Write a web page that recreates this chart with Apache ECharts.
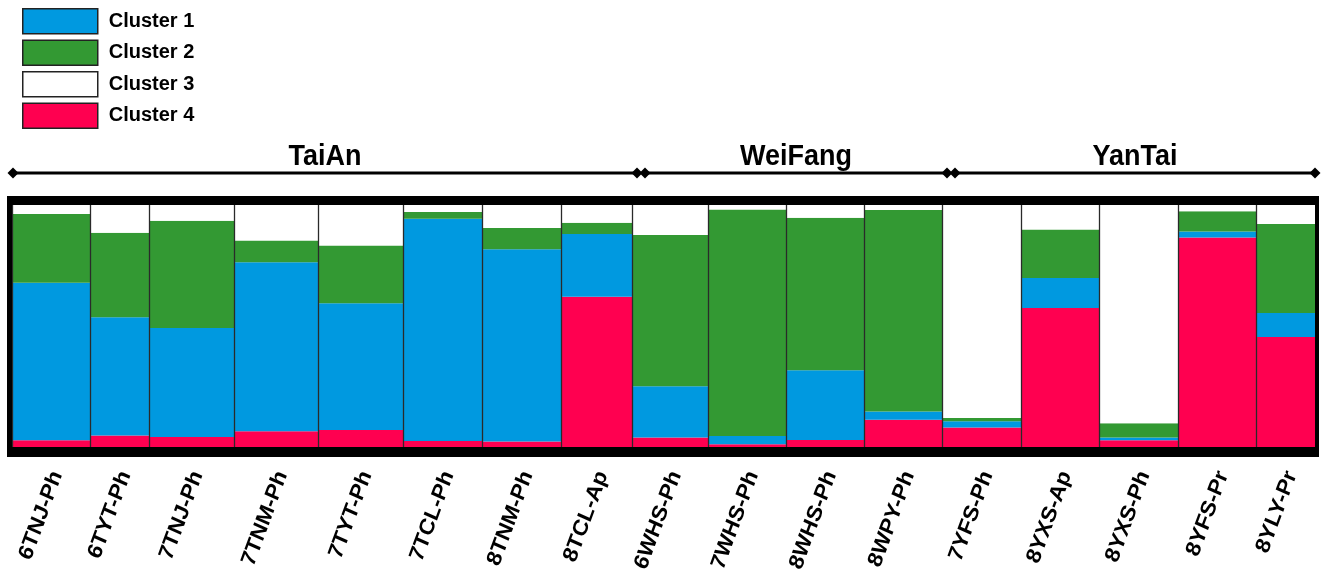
<!DOCTYPE html>
<html>
<head>
<meta charset="utf-8">
<script src="https://cdn.jsdelivr.net/npm/echarts@6/dist/echarts.min.js"></script>
<style>
  html, body { margin: 0; padding: 0; background: #fff; }
  #chart { width: 1321px; height: 580px; }
</style>
</head>
<body>
<div id="chart"></div>
<script>
// ---------- data ----------
const categories = ['6TNJ-Ph','6TYT-Ph','7TNJ-Ph','7TNM-Ph','7TYT-Ph','7TCL-Ph','8TNM-Ph','8TCL-Ap',
                    '6WHS-Ph','7WHS-Ph','8WHS-Ph','8WPY-Ph',
                    '7YFS-Ph','8YXS-Ap','8YXS-Ph','8YFS-Pr','8YLY-Pr'];
// relative bar widths (sample weights)
const sampleWeights = [78,59,85,84,85,79,79,71,76,78,78,78,79,78,79,78,59];
const groupNames = ['TaiAn','WeiFang','YanTai'];
const groupSizes = [8,4,5];
const clusterNames = ['Cluster 1','Cluster 2','Cluster 3','Cluster 4'];
const cluster1 = [0.651,0.488,0.451,0.698,0.524,0.918,0.794,0.259,0.212,0.034,0.288,0.034,0.025,0.124,0.011,0.025,0.099];
const cluster2 = [0.284,0.349,0.443,0.090,0.239,0.028,0.088,0.047,0.625,0.936,0.630,0.832,0.014,0.201,0.059,0.083,0.367];
const cluster3 = [0.037,0.114,0.065,0.148,0.167,0.029,0.094,0.073,0.124,0.018,0.052,0.021,0.880,0.101,0.902,0.026,0.079];
const cluster4 = [0.028,0.048,0.041,0.065,0.070,0.025,0.023,0.621,0.039,0.011,0.029,0.113,0.081,0.574,0.028,0.866,0.455];

// ---------- styling ----------
const colors = { 'Cluster 1': '#0099e0', 'Cluster 2': '#339933', 'Cluster 3': '#ffffff', 'Cluster 4': '#ff0050' };
const FONT = '"Liberation Sans", Arial, sans-serif';

// ---------- derived ----------
const edges = [0];
sampleWeights.forEach(w => edges.push(edges[edges.length - 1] + w));
const total = edges[edges.length - 1];
const values = { 'Cluster 1': cluster1, 'Cluster 2': cluster2, 'Cluster 3': cluster3, 'Cluster 4': cluster4 };
const stackOrder = ['Cluster 4', 'Cluster 1', 'Cluster 2', 'Cluster 3']; // bottom -> top

const base = categories.map(() => 0);
const clusterSeries = [];
stackOrder.forEach(name => {
  const arr = values[name];
  const data = categories.map((c, i) => {
    const item = [edges[i], edges[i + 1], base[i], base[i] + arr[i]];
    base[i] += arr[i];
    return item;
  });
  clusterSeries.push({
    name: name,
    type: 'custom',
    itemStyle: { color: colors[name] },
    data: data,
    z: 2,
    renderItem: function (params, api) {
      const p0 = api.coord([api.value(0), api.value(3)]);
      const p1 = api.coord([api.value(1), api.value(2)]);
      return {
        type: 'rect',
        shape: { x: p0[0], y: p0[1], width: p1[0] - p0[0], height: p1[1] - p0[1] },
        style: { fill: colors[name] }
      };
    }
  });
});

// separators between bars
const sepSeries = {
  name: 'sep', type: 'custom', silent: true, z: 3,
  data: categories.map((c, i) => [edges[i]]),
  renderItem: function (params, api) {
    const cs = params.coordSys;
    const p = api.coord([api.value(0), 0]);
    const x = Math.round(p[0]) + 0.5;
    return { type: 'line', shape: { x1: x, y1: cs.y, x2: x, y2: cs.y + cs.height },
             style: { stroke: '#2a2a2a', lineWidth: 1.3 } };
  }
};

// thick frame around plot
const frameSeries = {
  name: 'frame', type: 'custom', silent: true, z: 4,
  data: [[0]],
  renderItem: function (params, api) {
    const cs = params.coordSys;
    const L = 5, R = 4, T = 9, B = 10;
    return {
      type: 'group',
      children: [
        { type: 'rect', shape: { x: cs.x - L, y: cs.y - T, width: cs.width + L + R, height: T }, style: { fill: '#000' } },
        { type: 'rect', shape: { x: cs.x - L, y: cs.y + cs.height, width: cs.width + L + R, height: B }, style: { fill: '#000' } },
        { type: 'rect', shape: { x: cs.x - L, y: cs.y - T, width: L, height: cs.height + T + B }, style: { fill: '#000' } },
        { type: 'rect', shape: { x: cs.x + cs.width, y: cs.y - T, width: R, height: cs.height + T + B }, style: { fill: '#000' } }
      ]
    };
  }
};

// group headers
const groupData = [];
{
  let s = 0;
  groupSizes.forEach((n, g) => { groupData.push([edges[s], edges[s + n], g]); s += n; });
}
function diamond(cx, cy, r) {
  return { type: 'polygon', shape: { points: [[cx, cy - r], [cx + r, cy], [cx, cy + r], [cx - r, cy]] }, style: { fill: '#000' } };
}
const groupSeries = {
  name: 'groups', type: 'custom', silent: true, z: 5,
  data: groupData,
  renderItem: function (params, api) {
    const cs = params.coordSys;
    const g = api.value(2);
    const last = groupSizes.length - 1;
    let x0 = api.coord([api.value(0), 0])[0];
    let x1 = api.coord([api.value(1), 0])[0];
    x0 += (g === 0) ? 1 : 13;
    x1 += (g === last) ? 0 : 5;
    const ly = cs.y - 32;
    return {
      type: 'group',
      children: [
        { type: 'line', shape: { x1: x0, y1: ly, x2: x1, y2: ly }, style: { stroke: '#000', lineWidth: 3 } },
        diamond(x0, ly, 5.5), diamond(x1, ly, 5.5),
        { type: 'text', x: (x0 + x1) / 2, y: ly - 16, scaleY: 1.08,
          style: { text: groupNames[g], align: 'center', verticalAlign: 'middle',
                   fontFamily: FONT, fontWeight: 'bold', fontSize: 27, fill: '#000' } }
      ]
    };
  }
};

// category labels (rotated)
const labelSeries = {
  name: 'labels', type: 'custom', silent: true, z: 5,
  data: categories.map((c, i) => [(edges[i] + edges[i + 1]) / 2]),
  renderItem: function (params, api) {
    const cs = params.coordSys;
    const p = api.coord([api.value(0), 0]);
    return {
      type: 'group', x: p[0] + 6, y: cs.y + cs.height + 25, scaleY: 1.1,
      children: [{
        type: 'text', rotation: 68 * Math.PI / 180,
        style: { text: categories[params.dataIndex], align: 'right', verticalAlign: 'middle',
                 fontFamily: FONT, fontWeight: 'bold', fontSize: 21, fill: '#000' }
      }]
    };
  }
};

const chart = echarts.init(document.getElementById('chart'), null, { renderer: 'canvas' });
chart.setOption({
  animation: false,
  backgroundColor: '#fff',
  legend: {
    data: clusterNames,
    orient: 'vertical',
    left: 22, top: 8,
    padding: 0,
    itemWidth: 75, itemHeight: 25, itemGap: 5,
    icon: 'rect',
    selectedMode: false,
    itemStyle: { borderColor: '#222', borderWidth: 1.5 },
    textStyle: { fontFamily: FONT, fontWeight: 'bold', fontSize: 20, color: '#000', padding: [0, 0, 0, 6] }
  },
  grid: { left: 12, top: 205, width: 1303, height: 242 },
  xAxis: { type: 'value', min: 0, max: total, show: false },
  yAxis: { type: 'value', min: 0, max: 1, show: false },
  series: clusterSeries.concat([sepSeries, frameSeries, groupSeries, labelSeries])
});
</script>
</body>
</html>
